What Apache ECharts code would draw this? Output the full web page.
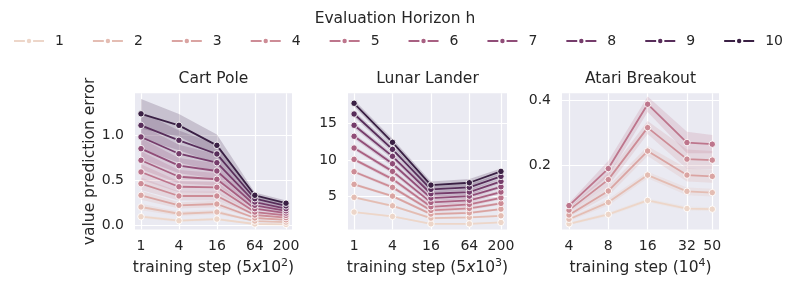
<!DOCTYPE html>
<html><head><meta charset="utf-8">
<script src="https://cdn.jsdelivr.net/npm/echarts@6/dist/echarts.min.js"></script>
<style>html,body{margin:0;padding:0;background:#fff}#c{width:789px;height:283px}</style>
</head><body><div id="c"></div>
<script>
const horizons = [1,2,3,4,5,6,7,8,9,10];
const envTitles = ['Cart Pole','Lunar Lander','Atari Breakout'];
const cartSteps = [1,4,16,64,200];
const lunarSteps = [1,4,16,64,200];
const atariSteps = [4,8,16,32,50];
const cartXTicks = [1,4,16,64,200];
const lunarXTicks = [1,4,16,64,200];
const atariXTicks = [4,8,16,32,50];
const cartYTicks = [0,0.5,1.0];
const lunarYTicks = [5,10,15];
const atariYTicks = [0.2,0.4];

// mean value prediction error, one row per horizon h = 1..10
const cartMean = [
 [0.100,0.056,0.074,0.019,0.015],
 [0.208,0.133,0.152,0.052,0.040],
 [0.338,0.227,0.241,0.086,0.065],
 [0.467,0.330,0.330,0.119,0.090],
 [0.597,0.433,0.427,0.152,0.115],
 [0.727,0.544,0.516,0.189,0.140],
 [0.856,0.667,0.608,0.227,0.165],
 [0.986,0.800,0.700,0.263,0.190],
 [1.115,0.949,0.797,0.300,0.220],
 [1.243,1.115,0.893,0.338,0.250]
];
const cartCI = [
 [0.020,0.015,0.015,0.004,0.004],
 [0.035,0.025,0.025,0.006,0.006],
 [0.050,0.035,0.035,0.009,0.009],
 [0.070,0.050,0.050,0.012,0.012],
 [0.085,0.060,0.060,0.015,0.015],
 [0.100,0.075,0.070,0.018,0.018],
 [0.115,0.085,0.085,0.021,0.021],
 [0.130,0.100,0.095,0.024,0.024],
 [0.150,0.110,0.105,0.027,0.027],
 [0.165,0.125,0.120,0.030,0.030]
];
const lunarMean = [
 [2.90,2.31,1.30,1.30,1.49],
 [4.91,3.76,2.08,2.18,2.40],
 [6.68,5.08,2.63,2.80,3.31],
 [8.40,6.27,3.13,3.40,4.09],
 [10.09,7.40,3.62,3.95,4.85],
 [11.63,8.45,4.22,4.50,5.63],
 [13.23,9.49,4.81,5.08,6.35],
 [14.73,10.50,5.40,5.63,7.09],
 [16.27,11.45,6.00,6.27,7.77],
 [17.73,12.41,6.58,6.90,8.45]
];
const lunarCI = [
 [0.10,0.10,0.10,0.10,0.10],
 [0.15,0.15,0.15,0.15,0.12],
 [0.20,0.20,0.20,0.20,0.15],
 [0.22,0.25,0.25,0.25,0.18],
 [0.25,0.28,0.30,0.30,0.22],
 [0.28,0.32,0.33,0.33,0.25],
 [0.32,0.36,0.37,0.37,0.28],
 [0.36,0.40,0.41,0.41,0.32],
 [0.40,0.45,0.45,0.45,0.35],
 [0.45,0.50,0.50,0.50,0.40]
];
const atariMean = [
 [0.019,0.048,0.091,0.066,0.064],
 [0.033,0.085,0.169,0.119,0.115],
 [0.046,0.120,0.243,0.169,0.165],
 [0.061,0.155,0.315,0.218,0.215],
 [0.075,0.189,0.387,0.269,0.264]
];
const atariCI = [
 [0.004,0.006,0.006,0.006,0.006],
 [0.005,0.010,0.010,0.012,0.012],
 [0.006,0.015,0.015,0.020,0.020],
 [0.007,0.020,0.020,0.030,0.028],
 [0.008,0.024,0.024,0.033,0.028]
];

const FONT = 'DejaVu Sans';
const TXT = '#262626';

function cubehelix(x){
  const gamma=1, s=0.1, r=0.4, h=0.85;
  const xg = Math.pow(x,gamma);
  const a = h*xg*(1-xg)/2;
  const phi = 2*Math.PI*(s/3 + r*x);
  const ch = (p0,p1)=>Math.round(255*Math.min(1,Math.max(0, xg + a*(p0*Math.cos(phi)+p1*Math.sin(phi)))));
  return 'rgb('+ch(-0.14861,1.78277)+','+ch(-0.29227,-0.90649)+','+ch(1.97294,0)+')';
}
function hueColor(h){ return cubehelix(0.86 + (0.17-0.86)*(h-1)/9); }

const envs = [
  {steps:cartSteps, mean:cartMean, ci:cartCI, xt:cartXTicks, yt:cartYTicks, xmin:0.803, xmax:249, ymin:-0.042, ymax:1.471,
   left:135, width:157, name:'{t|training step (5}{i|x}{t|10}{s|2}{t|)}', yfmt:v=>v.toFixed(1)},
  {steps:lunarSteps, mean:lunarMean, ci:lunarCI, xt:lunarXTicks, yt:lunarYTicks, xmin:0.803, xmax:249, ymin:0.53, ymax:19.09,
   left:348, width:159, name:'{t|training step (5}{i|x}{t|10}{s|3}{t|)}', yfmt:v=>String(v)},
  {steps:atariSteps, mean:atariMean, ci:atariCI, xt:atariXTicks, yt:atariYTicks, xmin:3.535, xmax:56.3, ymin:0.0015, ymax:0.4206,
   left:562, width:157, name:'{t|training step (10}{s|4}{t|)}', yfmt:v=>v.toFixed(1)}
];

const richName = {
  t:{fontSize:15.5, fontFamily:FONT, color:TXT, lineHeight:20},
  i:{fontSize:15.5, fontFamily:FONT, color:TXT, fontStyle:'italic', lineHeight:20},
  s:{fontSize:11, fontFamily:FONT, color:TXT, verticalAlign:'top', lineHeight:20}
};

const grid=[], xAxis=[], yAxis=[], series=[];
const titles=[{text:'Evaluation Horizon h', left:395, top:11, textAlign:'center', padding:0,
  textStyle:{fontSize:15.5, fontWeight:'normal', fontFamily:FONT, color:TXT}}];

envs.forEach((e,g)=>{
  grid.push({left:e.left, width:e.width, top:93.3, height:136.2, show:true, backgroundColor:'#eaeaf2', borderWidth:0});
  titles.push({text:envTitles[g], left:e.left+e.width/2, top:71, textAlign:'center', padding:0,
    textStyle:{fontSize:15.5, fontWeight:'normal', fontFamily:FONT, color:TXT}});
  xAxis.push({type:'log', logBase:2, gridIndex:g, min:e.xmin, max:e.xmax,
    axisLine:{show:false}, axisTick:{show:false, customValues:e.xt},
    axisLabel:{customValues:e.xt, fontSize:14, fontFamily:FONT, color:TXT, margin:10, formatter:v=>String(Math.round(v))},
    splitLine:{show:true, lineStyle:{color:'#ffffff', width:1.2}},
    name:e.name, nameLocation:'middle', nameGap:28, nameTextStyle:{rich:richName}});
  yAxis.push({type:'value', gridIndex:g, min:e.ymin, max:e.ymax,
    axisLine:{show:false}, axisTick:{show:false, customValues:e.yt},
    axisLabel:{customValues:e.yt, fontSize:14, fontFamily:FONT, color:TXT, margin:11, formatter:e.yfmt},
    splitLine:{show:true, lineStyle:{color:'#ffffff', width:1.2}},
    name: g===0 ? 'value prediction error' : '', nameLocation:'middle', nameGap:37, nameRotate:90,
    nameTextStyle:{fontSize:15.5, fontFamily:FONT, color:TXT}});
  e.mean.forEach((row,k)=>{
    const h = horizons[k];
    const col = hueColor(h);
    const ci = e.ci[k];
    series.push({type:'line', name:String(h), xAxisIndex:g, yAxisIndex:g,
      data:row.map((v,i)=>[e.steps[i], v]),
      lineStyle:{color:col, width:1.8}, itemStyle:{color:col, borderColor:'#ffffff', borderWidth:0.9},
      symbol:'circle', symbolSize:6.5, showSymbol:true, z:2, emphasis:{disabled:true}});
    series.push({type:'custom', name:'_band', xAxisIndex:g, yAxisIndex:g, silent:true, z:2, clip:true,
      data:row.map((v,i)=>[e.steps[i], v - ci[i], v + ci[i]]),
      encode:{x:0, y:[1,2]},
      renderItem:(params, api)=>{
        if (params.dataIndex !== 0) return null;
        const upper = [], lower = [];
        for (let i=0;i<row.length;i++){
          upper.push(api.coord([e.steps[i], row[i] + ci[i]]));
          lower.push(api.coord([e.steps[i], row[i] - ci[i]]));
        }
        return {type:'polygon', shape:{points:upper.concat(lower.reverse())},
          style:{fill:col, opacity:0.2}};
      }});
  });
});

const chart = echarts.init(document.getElementById('c'), null, {renderer:'canvas'});
chart.setOption({
  animation:false,
  backgroundColor:'#ffffff',
  title:titles,
  legend:{data:horizons.map(String), left:13, top:34, padding:0, itemWidth:30, itemHeight:8, itemGap:28,
    textStyle:{fontSize:14, fontFamily:FONT, color:TXT, padding:[0,0,0,6]}},
  grid, xAxis, yAxis, series
});
</script></body></html>
